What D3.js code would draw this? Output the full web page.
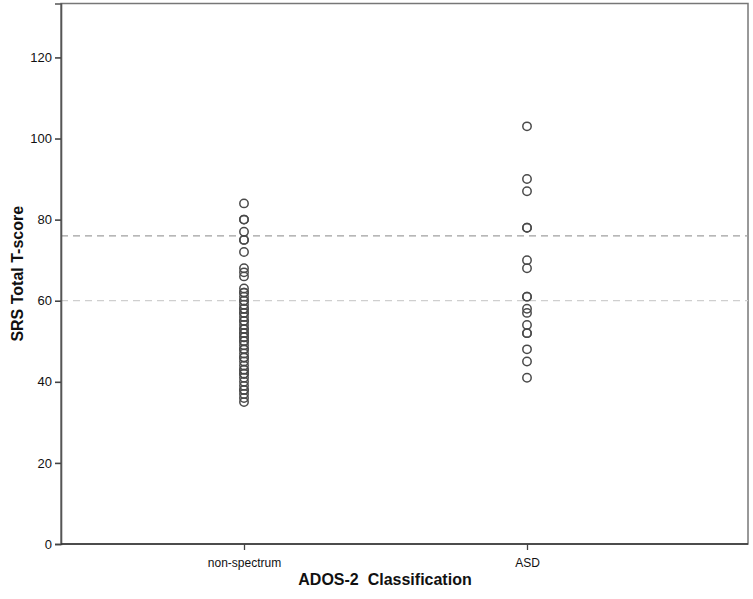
<!DOCTYPE html>
<html>
<head>
<meta charset="utf-8">
<script src="https://cdn.jsdelivr.net/npm/d3@7"></script>
<style>
  body { margin: 0; background: #fff; }
  svg text { font-family: Arial, "Liberation Sans", sans-serif; }
</style>
</head>
<body>
<div id="scatter"></div>
<script>
// categories on the x axis
var categories = ["non-spectrum", "ASD"];

// SRS total T-scores
var nonSpectrumScores = [84, 80, 80, 77, 75, 75, 72, 68, 67, 66, 63, 62, 62, 61, 60, 60, 59, 58, 58, 57, 57,
    56, 55, 55, 54, 53, 53, 52, 52, 51, 51, 50, 50, 49, 48, 48, 47, 46, 46, 45, 44, 43, 43, 42, 42, 41, 40,
    39, 38, 38, 37, 36, 35];
var asdScores = [103, 90, 87, 78, 78, 70, 68, 61, 61, 58, 57, 54, 52, 52, 48, 45, 41];

// y tick values
var yTicks = [0, 20, 40, 60, 80, 100, 120];

// reference cut-offs
var cutoffs = [76, 60];

var svgWidth = 753;
var svgHeight = 599;

var margin = { top: 3.5, left: 61, right: 5, bottom: 55 };
var chartWidth = svgWidth - margin.left - margin.right;
var chartHeight = 544 - margin.top;

var svg = d3.select("#scatter").append("svg")
    .attr("width", svgWidth)
    .attr("height", svgHeight);

var chartGroup = svg.append("g")
    .attr("transform", `translate(${margin.left}, ${margin.top})`);

//scales
var xScale = d3.scalePoint()
    .domain(categories)
    .range([183, 466]);

var yScale = d3.scaleLinear()
    .domain([0, 133.3])
    .range([chartHeight, 0]);

// frame (top and right sides)
chartGroup.append("rect")
    .attr("x", 0).attr("y", 0)
    .attr("width", chartWidth)
    .attr("height", chartHeight)
    .attr("fill", "none")
    .attr("stroke", "#777")
    .attr("stroke-width", 1.5);

// dashed cut-off lines
chartGroup.selectAll(".cutoff")
    .data(cutoffs)
    .enter()
    .append("line")
    .attr("class", "cutoff")
    .attr("x1", 0)
    .attr("x2", chartWidth)
    .attr("y1", d => yScale(d))
    .attr("y2", d => yScale(d))
    .attr("stroke", (d, i) => i == 0 ? "#a0a0a0" : "#cfcfcf")
    .attr("stroke-width", 1.3)
    .attr("stroke-dasharray", "7,5");

// axes
var leftAxis = d3.axisLeft(yScale).tickValues(yTicks).tickSize(6).tickPadding(3);
var bottomAxis = d3.axisBottom(xScale).tickSize(6).tickPadding(8);

var yAxisG = chartGroup.append("g").call(leftAxis);
var xAxisG = chartGroup.append("g")
    .attr("transform", `translate(0, ${chartHeight})`)
    .call(bottomAxis);

yAxisG.select(".domain").attr("stroke", "#555").attr("stroke-width", 1.6);
xAxisG.select(".domain").attr("stroke", "#333").attr("stroke-width", 1.6)
    .attr("d", `M0,0H${chartWidth}`);
yAxisG.selectAll(".tick line").attr("stroke", "#444").attr("stroke-width", 1.6);
xAxisG.selectAll(".tick line").attr("stroke", "#444").attr("stroke-width", 1.3);
yAxisG.selectAll(".tick text").attr("font-size", 13).attr("fill", "#111");
xAxisG.selectAll(".tick text").attr("font-size", 12).attr("fill", "#111");

// points
var points = [];
nonSpectrumScores.forEach(function(v) { points.push({ cat: categories[0], score: v }); });
asdScores.forEach(function(v) { points.push({ cat: categories[1], score: v }); });

chartGroup.selectAll("circle")
    .data(points)
    .enter()
    .append("circle")
    .attr("cx", d => xScale(d.cat))
    .attr("cy", d => yScale(d.score))
    .attr("r", 4.2)
    .attr("fill", "none")
    .attr("stroke", "#4a4a4a")
    .attr("stroke-width", 1.5);

// axis titles
svg.append("text")
    .attr("transform", `translate(23, ${margin.top + chartHeight / 2}) rotate(-90)`)
    .attr("text-anchor", "middle")
    .attr("font-size", 16)
    .attr("font-weight", "bold")
    .attr("fill", "#111")
    .text("SRS Total T-score");

svg.append("text")
    .attr("x", 385)
    .attr("y", 585)
    .attr("text-anchor", "middle")
    .attr("font-size", 16)
    .attr("font-weight", "bold")
    .attr("fill", "#111")
    .style("white-space", "pre")
    .text("ADOS-2  Classification");
</script>
</body>
</html>
